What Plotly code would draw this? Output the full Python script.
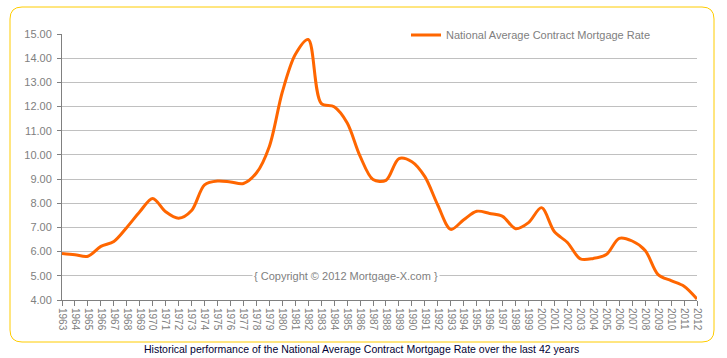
import plotly.graph_objects as go

years = list(range(1963, 2013))
rates = [5.92, 5.87, 5.81, 6.22, 6.42, 7.00, 7.65, 8.20, 7.65, 7.38,
         7.70, 8.76, 8.92, 8.88, 8.82, 9.25, 10.35, 12.60, 14.15, 14.77,
         12.13, 11.99, 11.33, 9.95, 8.98, 8.95, 9.85, 9.72, 9.10, 7.92,
         6.92, 7.32, 7.67, 7.58, 7.46, 6.95, 7.20, 7.82, 6.82, 6.38,
         5.70, 5.72, 5.88, 6.55, 6.44, 6.05, 5.05, 4.80, 4.57, 4.04]
series_name = "National Average Contract Mortgage Rate"
y_ticks = [4, 5, 6, 7, 8, 9, 10, 11, 12, 13, 14, 15]
caption = "Historical performance of the National Average Contract Mortgage Rate over the last 42 years"
copyright_text = "{ Copyright \u00a9 2012 Mortgage-X.com }"

W, H = 727, 358
L, R, T, B = 62, 30, 34, 58
PW, PH = W - L - R, H - T - B


def px(x):
    return (x - L) / PW


def py(y):
    return (H - B - y) / PH


fig = go.Figure()
fig.add_trace(go.Scatter(
    x=years, y=rates, mode="lines", name=series_name,
    line=dict(color="#FF6600", width=3, shape="spline", smoothing=0.9),
    hoverinfo="x+y",
))

# rounded border
x0, x1, y0, y1, r = 10, 714, 7, 342, 12
path = (f"M {px(x0+r)},{py(y0)} L {px(x1-r)},{py(y0)} Q {px(x1)},{py(y0)} {px(x1)},{py(y0+r)} "
        f"L {px(x1)},{py(y1-r)} Q {px(x1)},{py(y1)} {px(x1-r)},{py(y1)} "
        f"L {px(x0+r)},{py(y1)} Q {px(x0)},{py(y1)} {px(x0)},{py(y1-r)} "
        f"L {px(x0)},{py(y0+r)} Q {px(x0)},{py(y0)} {px(x0+r)},{py(y0)} Z")

fig.update_layout(
    width=W, height=H,
    margin=dict(l=L, r=R, t=T, b=B, autoexpand=False),
    paper_bgcolor="white", plot_bgcolor="white",
    font=dict(family="Liberation Sans, Arial, sans-serif", size=11, color="#808080"),
    showlegend=True,
    legend=dict(x=px(406), xanchor="left", y=py(35), yanchor="middle",
                bgcolor="white", font=dict(size=11, color="#808080"),
                itemwidth=30, borderwidth=0),
    xaxis=dict(range=[1963, 2012], tickmode="array", tickvals=years,
               ticktext=[str(y) for y in years], tickangle=90,
               showgrid=False, zeroline=False, showline=True, linecolor="#808080",
               linewidth=1, ticks="outside", ticklen=5, tickcolor="#808080",
               tickfont=dict(size=10, color="#808080")),
    yaxis=dict(range=[4, 15], tickmode="array", tickvals=y_ticks,
               ticktext=[f"{v:.2f}" for v in y_ticks],
               showgrid=True, gridcolor="#C0C0C0", gridwidth=1, zeroline=False,
               showline=True, linecolor="#808080", linewidth=1,
               ticks="outside", ticklen=4, tickcolor="#808080",
               tickfont=dict(size=11, color="#808080"), ticklabelstandoff=3),
    shapes=[dict(type="path", xref="paper", yref="paper", path=path,
                 line=dict(color="#FFCC00", width=1), layer="below")],
    annotations=[
        dict(text=copyright_text, xref="paper", yref="y", x=px(346), y=5,
             showarrow=False, bgcolor="white", font=dict(size=11, color="#808080"),
             xanchor="center", yanchor="middle", borderpad=1),
        dict(text=caption, xref="paper", yref="paper", x=px(361), y=py(349),
             showarrow=False, font=dict(size=10.5, color="#000033"),
             xanchor="center", yanchor="middle"),
    ],
)

fig.write_html("out.html", config={"displayModeBar": False},
               post_script="document.body.style.margin='0';document.body.style.padding='0';")
